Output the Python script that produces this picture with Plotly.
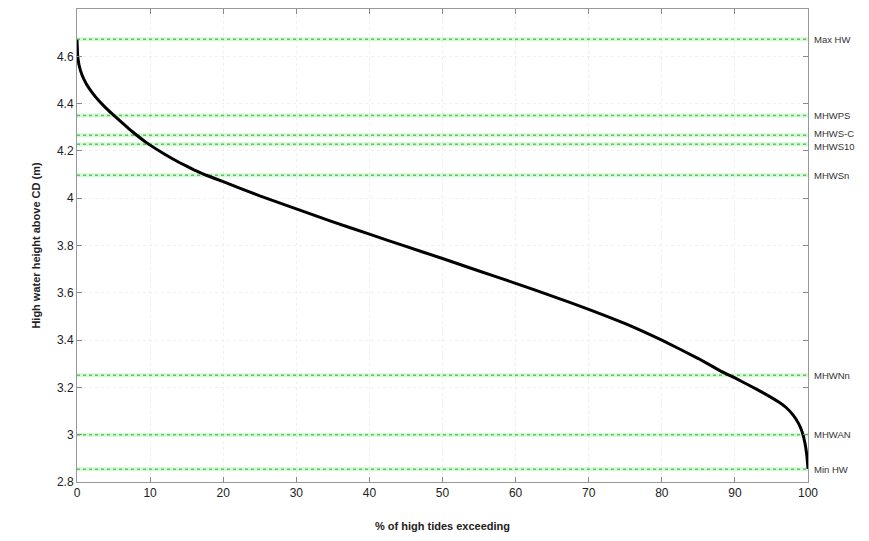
import plotly.graph_objects as go

# Exceedance curve
pct_exceed = [0, 0.1, 0.3, 0.7, 1.3, 2, 3, 4, 5.2, 6.5, 7.5, 9.5, 12, 14, 16, 17.7, 20, 25,
              30, 35, 40, 45, 50, 55, 60, 65, 70, 75, 80, 85, 88, 90, 92, 94, 96,
              97, 98, 98.7, 99.2, 99.6, 99.85, 100]
hw_height = [4.67, 4.60, 4.56, 4.52, 4.482, 4.45, 4.412, 4.38, 4.346, 4.31, 4.283, 4.235,
             4.186, 4.151, 4.12, 4.097, 4.07, 4.01, 3.955, 3.90, 3.848, 3.796, 3.745, 3.692,
             3.64, 3.586, 3.53, 3.47, 3.40, 3.322, 3.27, 3.24, 3.208, 3.175, 3.138,
             3.115, 3.082, 3.048, 3.012, 2.962, 2.91, 2.855]

# Reference levels
level_names = ["Max HW", "MHWPS", "MHWS-C", "MHWS10", "MHWSn", "MHWNn", "MHWAN", "Min HW"]
level_values = [4.672, 4.35, 4.266, 4.228, 4.097, 3.251, 3.0, 2.854]
label_shift = [0, 0, 2, -2, 0, 0, 0, 0]

x_ticks = [0, 10, 20, 30, 40, 50, 60, 70, 80, 90, 100]
y_ticks = [2.8, 3.0, 3.2, 3.4, 3.6, 3.8, 4.0, 4.2, 4.4, 4.6]
y_tick_text = ["2.8", "3", "3.2", "3.4", "3.6", "3.8", "4", "4.2", "4.4", "4.6"]

fig = go.Figure()

for name, val, sh in zip(level_names, level_values, label_shift):
    fig.add_trace(go.Scatter(x=[0, 100], y=[val, val], mode="lines",
                             line=dict(color="rgba(170,240,170,0.5)", width=4),
                             hoverinfo="skip", showlegend=False))
    fig.add_trace(go.Scatter(x=[0, 100], y=[val, val], mode="lines",
                             line=dict(color="#62c462", width=1.5, dash="dot"),
                             name=name, showlegend=False))
    fig.add_annotation(x=1, xref="paper", y=val, yref="y", text=name,
                       xanchor="left", yanchor="middle", xshift=4, yshift=sh,
                       showarrow=False,
                       font=dict(size=9.5, color="#333333", family="Liberation Sans"))

fig.add_trace(go.Scatter(x=pct_exceed, y=hw_height, mode="lines",
                         line=dict(color="black", width=3, shape="spline", smoothing=0.3),
                         showlegend=False))

fig.update_layout(
    width=869, height=541,
    margin=dict(l=77, r=61, t=9, b=59),
    paper_bgcolor="white", plot_bgcolor="white",
    font=dict(family="Liberation Sans", size=12, color="#222222"),
)
fig.update_xaxes(range=[0, 100], tickvals=x_ticks, ticks="inside", ticklen=5,
                 tickcolor="#888888", showline=True, linecolor="#999999", mirror="ticks",
                 showgrid=True, gridcolor="#efefef", griddash="dot", zeroline=False,
                 tickfont=dict(size=12),
                 title=dict(text="<b>% of high tides exceeding</b>", font=dict(size=11), standoff=22))
fig.update_yaxes(range=[2.8, 4.8], tickvals=y_ticks, ticktext=y_tick_text, ticks="inside",
                 ticklen=5, tickcolor="#888888", showline=True, linecolor="#999999",
                 mirror="ticks", showgrid=True, gridcolor="#efefef", griddash="dot",
                 zeroline=False, tickfont=dict(size=12),
                 title=dict(text="<b>High water height above CD (m)</b>", font=dict(size=11), standoff=14))

fig.write_html("out.html")
